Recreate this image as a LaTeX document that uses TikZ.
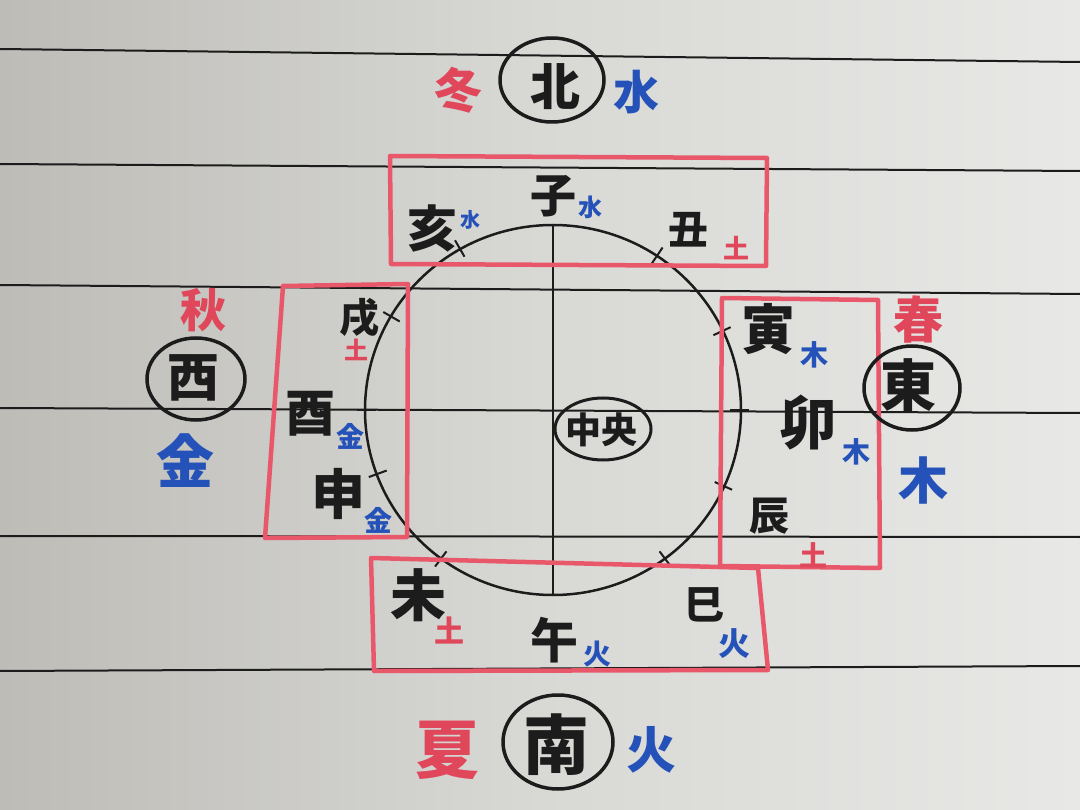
\documentclass[tikz,border=0pt]{standalone}
\usepackage{fontspec}
\newfontfamily\cjk{Noto Sans CJK JP}
\usetikzlibrary{shapes.geometric}
\definecolor{ink}{HTML}{1C1C1C}
\definecolor{mred}{HTML}{E0475A}
\definecolor{bred}{HTML}{E8586A}
\definecolor{mblue}{HTML}{2452B8}
\definecolor{boardL}{HTML}{BDBCB7}
\definecolor{boardM}{HTML}{D8D8D5}
\definecolor{boardR}{HTML}{E8E8E6}
\newcommand{\kfs}[1]{\fontsize{#1}{#1}\selectfont}
\begin{document}
\begin{tikzpicture}[x=1pt,y=-1pt,
  kan/.style={font=\cjk\bfseries, inner sep=0pt, text=ink},
  seasontext/.style={kan, text=mred},
  elemtext/.style={kan, text=mblue},
  rule/.style={draw=ink, line width=2pt},
  frame/.style={draw=bred, line width=4.5pt, line join=round},
  ring/.style={draw=ink, line width=3.5pt, ellipse, inner sep=0pt},
  wheel/.style={draw=ink, line width=2.5pt},
  tick/.style={draw=ink, line width=2pt}
]
\useasboundingbox (0,0) rectangle (1080,810);
\shade[left color=boardL, right color=boardR, middle color=boardM] (0,0) rectangle (1080,810);

% ruled lines of the whiteboard
\coordinate (r1a) at (0,49);  \coordinate (r1b) at (1080,62);
\coordinate (r2a) at (0,164); \coordinate (r2b) at (1080,171);
\coordinate (r3a) at (0,285); \coordinate (r3b) at (1080,294);
\coordinate (r4a) at (0,408); \coordinate (r4b) at (1080,413);
\coordinate (r5a) at (0,536); \coordinate (r5b) at (1080,537);
\coordinate (r6a) at (0,671); \coordinate (r6b) at (1080,666);
\foreach \i in {1,...,6} {\draw[rule] (r\i a) -- (r\i b);}

% wheel
\coordinate (C) at (553,410);
\draw[wheel] (C) ellipse[x radius=188pt, y radius=185pt];
\coordinate (wtop) at (553,225);
\coordinate (wbot) at (553,595);
\draw[draw=ink, line width=1.6pt] (wtop) -- (wbot);
\foreach \a in {0,25,56,120,150,180,200,233,307,336} {
  \draw[tick] ([shift={(\a:177pt)}]C) -- ([shift={(\a:196pt)}]C);
}

% red frames
\draw[frame] (390,156) -- (767,158) -- (766,266) -- (391,264) -- cycle;
\draw[frame] (283,286) -- (408,284) -- (407,537) -- (265,538) -- cycle;
\draw[frame] (722,298) -- (878,300) -- (880,568) -- (720,566) -- cycle;
\draw[frame] (371,558) -- (758,568) -- (768,670) -- (374,671) -- cycle;

% cardinal directions
\node[ring, minimum width=104pt, minimum height=84pt] (northring) at (552,80) {};
\node[kan] (north) at (555,87) {\kfs{50}北};
\node[seasontext] (winter) at (458,90) {\kfs{48}冬};
\node[elemtext] (water) at (636,92) {\kfs{46}水};

\node[ring, minimum width=98pt, minimum height=82pt] (westring) at (196,379) {};
\node[kan] (west) at (193,378) {\kfs{52}西};
\node[seasontext] (autumn) at (203,310) {\kfs{46}秋};
\node[elemtext] (metal) at (185,461) {\kfs{58}金};

\node[ring, minimum width=96pt, minimum height=84pt] (eastring) at (912,388) {};
\node[kan] (east) at (908,385) {\kfs{56}東};
\node[seasontext] (spring) at (918,320) {\kfs{50}春};
\node[elemtext] (wood) at (923,480) {\kfs{50}木};

\node[ring, minimum width=110pt, minimum height=94pt] (southring) at (558,742) {};
\node[kan] (south) at (556,745) {\kfs{66}南};
\node[seasontext] (summer) at (447,750) {\kfs{64}夏};
\node[elemtext] (fire) at (651,750) {\kfs{50}火};

% centre
\node[ring, line width=3pt, minimum width=96pt, minimum height=62pt] (centrering) at (603,429) {};
\node[kan] (centre) at (601,430) {\kfs{36}中央};

% branches
\node[kan] (ne) at (553,196) {\kfs{46}子};
\node[elemtext] (newater) at (590,207) {\kfs{24}水};
\node[kan] (gai) at (432,228) {\kfs{50}亥};
\node[elemtext] (gaiwater) at (470,220) {\kfs{20}水};
\node[kan] (ushi) at (688,230) {\kfs{40}丑};
\node[seasontext] (ushiearth) at (736,248) {\kfs{26}土};

\node[kan] (inu) at (359,318) {\kfs{40}戌};
\node[seasontext] (inuearth) at (356,350) {\kfs{24}土};
\node[kan] (tori) at (310,414) {\kfs{50}酉};
\node[elemtext] (torimetal) at (350,436) {\kfs{28}金};
\node[kan] (saru) at (338,494) {\kfs{54}申};
\node[elemtext] (sarumetal) at (378,520) {\kfs{28}金};

\node[kan] (tora) at (768,329) {\kfs{54}寅};
\node[elemtext] (torawood) at (814,355) {\kfs{28}木};
\node[kan] (u) at (808,422) {\kfs{58}卯};
\node[elemtext] (uwood) at (856,452) {\kfs{28}木};
\node[kan] (tatsu) at (769,516) {\kfs{40}辰};
\node[seasontext] (tatsuearth) at (813,555) {\kfs{28}土};

\node[kan] (hitsuji) at (418,595) {\kfs{56}未};
\node[seasontext] (hitsujiearth) at (449,630) {\kfs{30}土};
\node[kan] (uma) at (554,640) {\kfs{48}午};
\node[elemtext] (umafire) at (597,654) {\kfs{28}火};
\node[kan] (mi) at (704,605) {\kfs{40}巳};
\node[elemtext] (mifire) at (734,644) {\kfs{32}火};
\end{tikzpicture}
\end{document}
